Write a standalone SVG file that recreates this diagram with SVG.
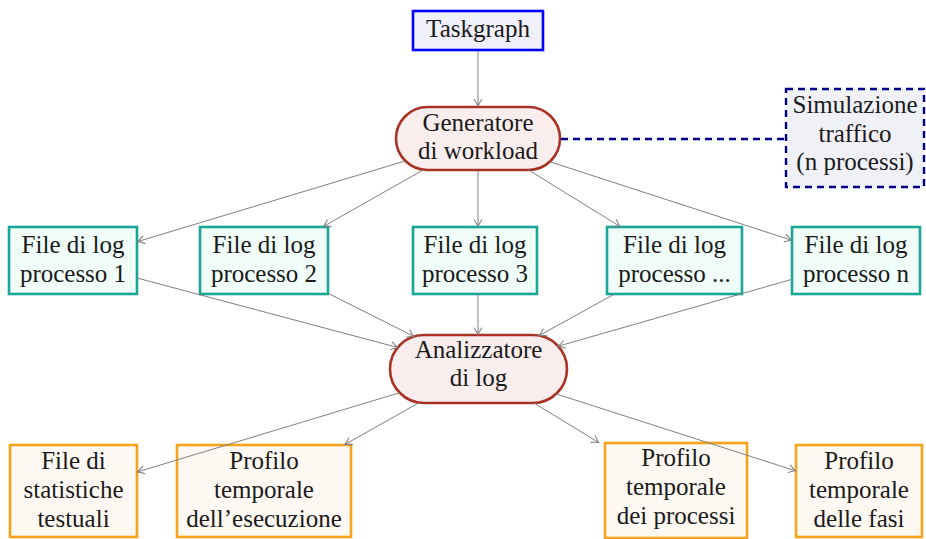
<svg xmlns="http://www.w3.org/2000/svg" width="926" height="539" viewBox="0 0 926 539">
<style>
text{font-family:"Liberation Serif","Times New Roman",serif;font-size:25px;fill:#1a1a1a;text-anchor:middle}
.blue{fill:#f0f0fb;stroke:#0000ff;stroke-width:2.6}
.red{fill:#f9eded;stroke:#a93226;stroke-width:2.6}
.sim{fill:#f0f0f7;stroke:#00008b;stroke-width:2.4;stroke-dasharray:7 5}
.teal{fill:#f0fdf8;stroke:#17a697;stroke-width:2.6}
.orange{fill:#fef8f2;stroke:#f5a31a;stroke-width:2.6}
.edge{fill:none;stroke:#808080;stroke-width:1;marker-end:url(#arr)}
.dash{fill:none;stroke:#00008b;stroke-width:2.4;stroke-dasharray:7 5}
</style>
<defs>
<marker id="arr" markerUnits="userSpaceOnUse" markerWidth="12" markerHeight="12" viewBox="-8 -6 10 12" refX="0" refY="0" orient="auto">
<path d="M-6.5,-3.8 Q-2.5,-1 0,0 Q-2.5,1 -6.5,3.8" fill="none" stroke="#808080" stroke-width="1.1" stroke-linecap="round"/>
</marker>
</defs>
<g id="taskgraph"><rect class="blue" x="413" y="11" width="130" height="39"/><text x="478" y="37">Taskgraph</text></g>
<g id="generatore"><rect class="red" x="396" y="107" width="164" height="63" rx="31.5"/><text x="478" y="131">Generatore</text><text x="478" y="159">di workload</text></g>
<g id="simulazione"><rect class="sim" x="786" y="89" width="138" height="98"/><text x="855" y="113">Simulazione</text><text x="855" y="142">traffico</text><text x="855" y="170">(n processi)</text></g>
<g id="file1"><rect class="teal" x="9" y="227" width="128" height="67"/><text x="73" y="253">File di log</text><text x="73" y="282">processo 1</text></g>
<g id="file2"><rect class="teal" x="200" y="227" width="128" height="67"/><text x="264" y="253">File di log</text><text x="264" y="282">processo 2</text></g>
<g id="file3"><rect class="teal" x="413" y="227" width="124" height="67"/><text x="475" y="253">File di log</text><text x="475" y="282">processo 3</text></g>
<g id="filedots"><rect class="teal" x="607" y="227" width="135" height="67"/><text x="674.5" y="253">File di log</text><text x="674.5" y="282">processo ...</text></g>
<g id="filen"><rect class="teal" x="792" y="227" width="128" height="67"/><text x="856" y="253">File di log</text><text x="856" y="282">processo n</text></g>
<g id="analizzatore"><rect class="red" x="390" y="335" width="177" height="68" rx="34"/><text x="478.5" y="358">Analizzatore</text><text x="478.5" y="386">di log</text></g>
<g id="statistiche"><rect class="orange" x="10" y="445" width="127" height="92"/><text x="73.5" y="469">File di</text><text x="73.5" y="498">statistiche</text><text x="73.5" y="527">testuali</text></g>
<g id="profiloesecuzione"><rect class="orange" x="177" y="445" width="174" height="92"/><text x="264" y="469">Profilo</text><text x="264" y="498">temporale</text><text x="264" y="527">dell’esecuzione</text></g>
<g id="profiloprocessi"><rect class="orange" x="605" y="443" width="142" height="95"/><text x="676" y="466">Profilo</text><text x="676" y="495">temporale</text><text x="676" y="524">dei processi</text></g>
<g id="profilofasi"><rect class="orange" x="796" y="445" width="126" height="92"/><text x="859" y="469">Profilo</text><text x="859" y="498">temporale</text><text x="859" y="527">delle fasi</text></g>
<g id="connectors">
<path class="edge" d="M478,51 L478,106"/>
<path class="dash" d="M561,139 L786,139"/>
<path class="edge" d="M405.4,160.9 L137.5,241.6"/>
<path class="edge" d="M423.4,169.8 L323.4,226.5"/>
<path class="edge" d="M478,171 L478,226.5"/>
<path class="edge" d="M528.4,169.9 L620,226.5"/>
<path class="edge" d="M549.7,161.7 L791.5,240.2"/>
<path class="edge" d="M137,278 L397.7,347.5"/>
<path class="edge" d="M329.5,294 L414,336.5"/>
<path class="edge" d="M478,294 L478,334.5"/>
<path class="edge" d="M614.5,294 L539.3,335.5"/>
<path class="edge" d="M792,279.3 L558.2,346.2"/>
<path class="edge" d="M399.7,392.7 L137.5,471.9"/>
<path class="edge" d="M419.3,402.6 L344.9,444.5"/>
<path class="edge" d="M533.9,403 L598.8,442.5"/>
<path class="edge" d="M556.1,393.9 L795.5,470.8"/>
</g>
</svg>
